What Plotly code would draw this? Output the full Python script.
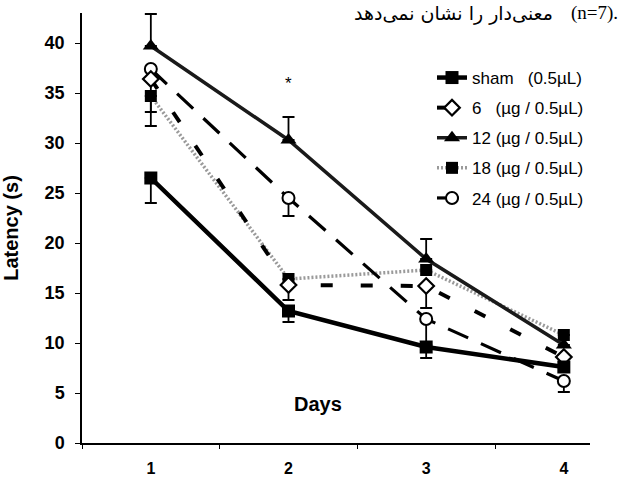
import plotly.graph_objects as go

# Mean latency (s) per training day for each treatment group
days = [1, 2, 3, 4]
day_labels = ["1", "2", "3", "4"]

series_names = ["sham   (0.5µL)", "6   (µg / 0.5µL)", "12 (µg / 0.5µL)",
                "18 (µg / 0.5µL)", "24 (µg / 0.5µL)"]

sham = [26.5, 13.2, 9.6, 7.6]
dose6 = [36.4, 15.8, 15.7, 8.6]
dose12 = [39.7, 30.3, 18.4, 9.8]
dose18 = [34.7, 16.4, 17.3, 10.8]
dose24 = [37.4, 24.5, 12.4, 6.2]

# One-sided SEM bars (upper / lower)
sham_up = [0, 0, 0, 0]
sham_lo = [2.5, 1.1, 1.1, 0]
dose6_up = [0, 0, 0, 0]
dose6_lo = [3.3, 1.5, 2.2, 0]
dose12_up = [3.2, 2.3, 2.0, 0]
dose12_lo = [0, 0, 0, 0]
dose18_up = [0, 0, 0, 0]
dose18_lo = [3.0, 0, 0, 0]
dose24_up = [0, 0, 0, 0]
dose24_lo = [0, 1.8, 2.6, 1.1]

y_ticks = [0, 5, 10, 15, 20, 25, 30, 35, 40]

caption_fa = "معنی‌دار را نشان نمی‌دهد"
caption_n = "(n=7)."

PLOT_L, PLOT_R, PLOT_T, PLOT_B = 82, 590, 13, 443
W, H = 619, 480


def px_x(px):
    return (px - PLOT_L) / (PLOT_R - PLOT_L)


def px_y(py):
    return (PLOT_B - py) / (PLOT_B - PLOT_T)


fig = go.Figure()


def add_series(name, y, up, lo, line, marker, rank):
    fig.add_trace(go.Scatter(
        x=days, y=y, name=name, mode="lines+markers",
        line=line, marker=marker, legendrank=rank, legendgroup=name,
        error_y=dict(type="data", symmetric=False, array=up, arrayminus=lo,
                     color="black", thickness=1.8, width=6),
    ))


# Drawn back to front
add_series(series_names[3], dose18, dose18_up, dose18_lo,
           dict(color="#9a9a9a", width=3.5, dash="2px,2px"),
           dict(symbol="square", size=12, color="black"), 4)
add_series(series_names[4], dose24, dose24_up, dose24_lo,
           dict(color="black", width=3.2, dash="22px,14px"),
           dict(symbol="circle", size=12, color="white",
                line=dict(color="black", width=2)), 5)
add_series(series_names[1], dose6, dose6_up, dose6_lo,
           dict(color="black", width=4, dash="12px,28px"),
           dict(symbol="diamond", size=12, color="white",
                line=dict(color="black", width=2.2)), 2)
add_series(series_names[2], dose12, dose12_up, dose12_lo,
           dict(color="#1a1a1a", width=3.5),
           dict(symbol="triangle-up", size=14, color="black"), 3)
add_series(series_names[0], sham, sham_up, sham_lo,
           dict(color="black", width=4.5),
           dict(symbol="square", size=13, color="black"), 1)

# Significance marker on day 2
fig.add_annotation(x=2, y=36.0, text="*", showarrow=False,
                   font=dict(family="Liberation Sans", size=17, color="black"))

# Axis title placed inside the plotting area
fig.add_annotation(x=px_x(318), y=px_y(417), xref="paper", yref="paper",
                   text="<b>Days</b>", showarrow=False,
                   font=dict(family="Liberation Sans", size=20, color="black"))

# Caption fragment above the plot: Persian words, then the sample size
fig.add_annotation(x=px_x(352), y=px_y(13), xref="paper", yref="paper",
                   xanchor="left", yanchor="middle",
                   text=caption_fa, showarrow=False,
                   font=dict(family="DejaVu Sans", size=19, color="black"))
fig.add_annotation(x=px_x(569), y=px_y(13), xref="paper", yref="paper",
                   xanchor="left", yanchor="middle",
                   text=caption_n, showarrow=False,
                   font=dict(family="Liberation Serif", size=19, color="black"))

fig.update_layout(
    width=W, height=H,
    margin=dict(l=PLOT_L, r=W - PLOT_R, t=PLOT_T, b=H - PLOT_B, autoexpand=False),
    paper_bgcolor="white", plot_bgcolor="white",
    font=dict(family="Liberation Sans", color="black"),
    showlegend=True,
    legend=dict(x=px_x(432), y=px_y(60), xanchor="left", yanchor="top",
                bgcolor="rgba(0,0,0,0)", font=dict(size=17, family="Liberation Sans"),
                tracegroupgap=5, itemwidth=30),
    xaxis=dict(range=[0.5, 4.19], tickvals=days, ticktext=day_labels,
               ticks="", showgrid=False, zeroline=False, automargin=False,
               showline=True, linecolor="black", linewidth=1.5,
               tickfont=dict(size=16, weight="bold"), ticklabelstandoff=10,
               minor=dict(tickvals=[0.5, 1.5, 2.5, 3.5], ticks="outside",
                          ticklen=4, tickcolor="black", tickwidth=1.2)),
    yaxis=dict(range=[0, 43], tickvals=y_ticks, ticks="outside", ticklen=5,
               tickcolor="black", tickwidth=1.3, showgrid=False, zeroline=False,
               automargin=False,
               showline=True, linecolor="black", linewidth=1.5,
               tickfont=dict(size=18, weight="bold"), ticklabelstandoff=7,
               title=dict(text="<b>Latency (s)</b>", font=dict(size=20), standoff=28)),
    yaxis2=dict(overlaying="y", matches="y", side="left", tickvals=y_ticks,
                ticks="inside", ticklen=4, tickcolor="black", tickwidth=1.3,
                showticklabels=False, showgrid=False, zeroline=False, showline=False),
)

fig.write_html("out.html")
